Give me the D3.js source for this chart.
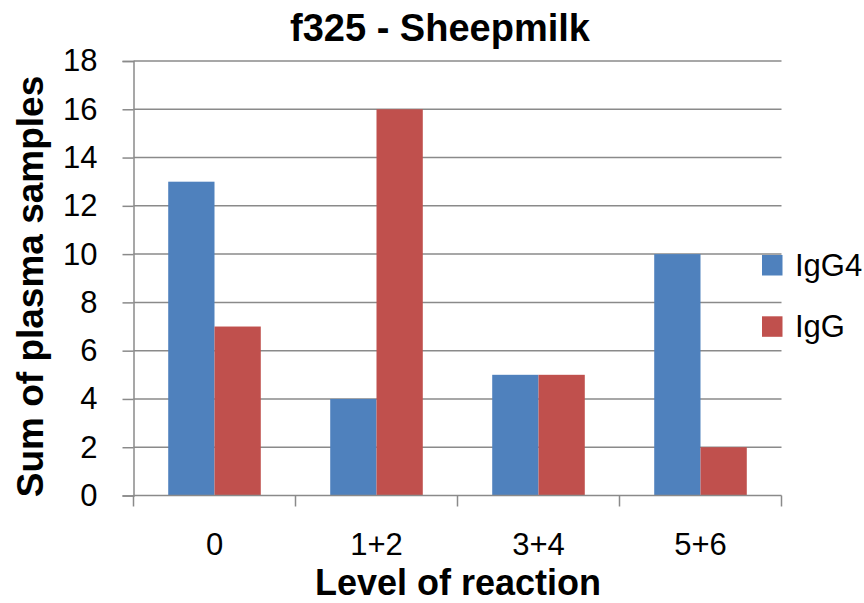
<!DOCTYPE html>
<html><head><meta charset="utf-8">
<script src="https://cdn.jsdelivr.net/npm/d3@7"></script>
<style>body{margin:0;background:#fff;} text{font-family:"Liberation Sans", Arial, sans-serif;}</style>
</head><body>
<svg id="c" width="864" height="603"></svg>
<script>
const categories = ["0", "1+2", "3+4", "5+6"];
const seriesNames = ["IgG4", "IgG"];
const igg4 = [13, 4, 5, 10];
const igg = [7, 16, 5, 2];
const yTicks = [0, 2, 4, 6, 8, 10, 12, 14, 16, 18];
const colors = ["#4F81BD", "#C0504D"];
const title = "f325 - Sheepmilk";
const xTitle = "Level of reaction";
const yTitle = "Sum of plasma samples";

const svg = d3.select("#c");
const L = 133.5, R = 781.5, T = 61, B = 495.5;
const FONT = "'Liberation Sans', Arial, sans-serif";
const x = d3.scaleBand().domain(categories).range([L, R]);
const y = d3.scaleLinear().domain([0, 18]).range([B, T]);
const gridColor = "#8a8a8a";

// gridlines
svg.append("g").selectAll("line").data(yTicks.filter(d => d > 0)).join("line")
  .attr("x1", L).attr("x2", R).attr("y1", d => y(d)).attr("y2", d => y(d))
  .attr("stroke", gridColor).attr("stroke-width", 1.5);

// bars (Excel-style gap width 150%)
const series = [igg4, igg];
const barW = x.bandwidth() / (2 + 1.5);
const offset = (x.bandwidth() - 2 * barW) / 2;
series.forEach((vals, si) => {
  svg.append("g").selectAll("rect").data(vals).join("rect")
    .attr("x", (d, i) => x(categories[i]) + offset + si * barW)
    .attr("width", barW)
    .attr("y", d => y(d)).attr("height", d => y(0) - y(d))
    .attr("fill", colors[si]);
});

// y axis
const ya = svg.append("g").attr("transform", `translate(${L},0)`)
  .call(d3.axisLeft(y).tickValues(yTicks).tickSize(11).tickPadding(25));
ya.select(".domain").attr("stroke", gridColor).attr("stroke-width", 1.5);
ya.selectAll(".tick line").attr("stroke", gridColor).attr("stroke-width", 1.5);
ya.selectAll(".tick text").attr("font-size", 31).attr("fill", "#000").style("font-family", FONT);

// x axis
const xa = svg.append("g").attr("transform", `translate(0,${B})`);
xa.append("line").attr("x1", L).attr("x2", R).attr("stroke", gridColor).attr("stroke-width", 1.5);
const bounds = categories.map(c => x(c)).concat([R]);
xa.selectAll("line.tk").data(bounds).join("line").attr("class", "tk")
  .attr("x1", d => d).attr("x2", d => d).attr("y1", 0).attr("y2", 11)
  .attr("stroke", gridColor).attr("stroke-width", 1.5);
xa.selectAll("text").data(categories).join("text")
  .attr("x", d => x(d) + x.bandwidth() / 2).attr("y", 59.5)
  .attr("text-anchor", "middle").attr("font-size", 31).text(d => d);

// titles
svg.append("text").attr("x", 440).attr("y", 41).attr("text-anchor", "middle")
  .attr("font-size", 38).attr("font-weight", "bold").text(title);
svg.append("text").attr("x", 458).attr("y", 595).attr("text-anchor", "middle")
  .attr("font-size", 36).attr("font-weight", "bold").text(xTitle);
svg.append("text").attr("transform", `translate(43,286.5) rotate(-90)`)
  .attr("text-anchor", "middle").attr("font-size", 37).attr("font-weight", "bold").text(yTitle);

// legend
const lg = svg.append("g");
seriesNames.forEach((n, i) => {
  lg.append("rect").attr("x", 762).attr("y", 255 + i * 61.3).attr("width", 20.5).attr("height", 20.5).attr("fill", colors[i]);
  lg.append("text").attr("x", 795).attr("y", 275.5 + i * 61.3).attr("font-size", 31).text(n);
});
</script>
</body></html>
